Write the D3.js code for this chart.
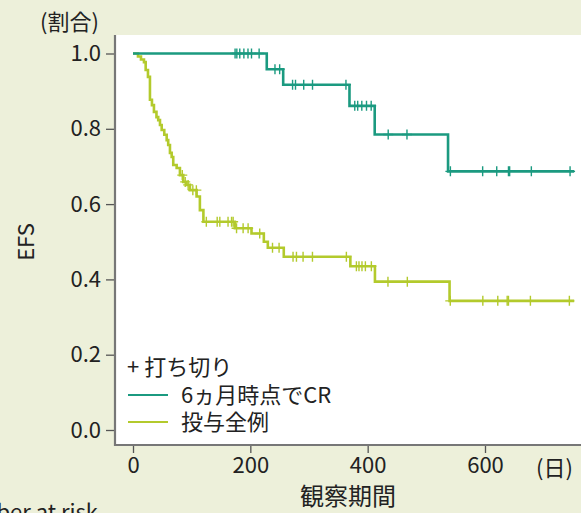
<!DOCTYPE html>
<html lang="ja">
<head>
<meta charset="utf-8">
<title>EFS</title>
<script src="https://cdn.jsdelivr.net/npm/d3@7"></script>
<style>
  body { margin: 0; background: #edf0da; overflow: hidden; }
  text { font-family: "Noto Sans CJK JP", "Noto Sans", sans-serif; fill: #222; }
</style>
</head>
<body>
<script>

// chart size
var w = 581, h = 513;

// 6ヵ月時点でCR: step days and survival after each step
var crDays   = [0, 228, 256, 369, 412, 537];
var crValues = [1.0, 0.958, 0.917, 0.861, 0.785, 0.687];
var crEnd = 752;
var crCensor = [174, 177, 182, 189, 196, 202, 215, 242, 250, 272, 277, 291, 306, 363,
                378, 383, 390, 398, 406, 435, 467, 541, 596, 620, 640, 642, 679, 745];

// 投与全例
var allDays   = [0, 8.5, 13.6, 18.7, 21.6, 25.5, 28.9, 32.3, 35.7, 40, 43, 46, 48.9, 53.3,
                 57.4, 60, 63, 65.9, 68.6, 74.4, 80, 85.6, 91, 97, 108.4, 114, 120,
                 173.6, 202, 223, 229.8, 257, 370.5, 412.4, 539.6];
var allValues = [1.0, 0.992, 0.984, 0.977, 0.956, 0.938, 0.877, 0.863, 0.845, 0.831, 0.823,
                 0.810, 0.797, 0.784, 0.770, 0.757, 0.736, 0.725, 0.704, 0.696, 0.677,
                 0.659, 0.651, 0.637, 0.620, 0.584, 0.553,
                 0.536, 0.522, 0.500, 0.484, 0.460, 0.435, 0.394, 0.343];
var allEnd = 752;
var allCensor = [84, 89, 94, 102, 108, 125, 143.5, 148, 162, 168, 170.7, 176.5, 187.7, 196.2,
                 216, 237.8, 249, 272.8, 278.6, 289.9, 305.9, 363.7, 380.8, 385.2, 390.3,
                 396.1, 406.3, 434.6, 467.6, 540.8, 596.3, 621.8, 637.8, 640, 677.4, 743.8];

// ticks and labels
var xTicks = [0, 200, 400, 600];
var yTicks = [0, 0.2, 0.4, 0.6, 0.8, 1.0];
var legendNames = ["6ヵ月時点でCR", "投与全例"];
var colors = ["#1b9a80", "#b3ca2c"];

var xScale = d3.scaleLinear().domain([0, 600]).range([133, 485]);
var yScale = d3.scaleLinear().domain([0, 1]).range([430, 53.5]);

var svg = d3.select("body").append("svg")
    .attr("width", w)
    .attr("height", h);

// plot panel
var panelLeft = 115, panelTop = 35, panelBottom = 445;
svg.append("rect")
    .attr("x", panelLeft).attr("y", panelTop)
    .attr("width", w - panelLeft).attr("height", panelBottom - panelTop)
    .attr("fill", "#fff");

// axes
var xAxis = d3.axisBottom(xScale).tickValues(xTicks).tickSize(8).tickPadding(4).tickFormat(d3.format("d"));
var yAxis = d3.axisLeft(yScale).tickValues(yTicks).tickSize(9).tickPadding(5).tickFormat(d3.format(".1f"));

var gx = svg.append("g").attr("transform", "translate(0," + panelBottom + ")").call(xAxis);
var gy = svg.append("g").attr("transform", "translate(" + panelLeft + ",0)").call(yAxis);
gx.select(".domain").remove();
gy.select(".domain").remove();
[gx, gy].forEach(function(g) {
    g.selectAll(".tick line").attr("stroke", "#555").attr("stroke-width", 1.3);
    g.selectAll(".tick text").style("font-size", "22px").attr("fill", "#222");
});

svg.append("line").attr("x1", panelLeft).attr("x2", panelLeft).attr("y1", panelTop).attr("y2", panelBottom + 1)
    .attr("stroke", "#777").attr("stroke-width", 2.2);
svg.append("line").attr("x1", panelLeft).attr("x2", w).attr("y1", panelBottom).attr("y2", panelBottom)
    .attr("stroke", "#777").attr("stroke-width", 2.2);

// curves
var line = d3.line()
    .x(function(d) { return xScale(d[0]); })
    .y(function(d) { return yScale(d[1]); })
    .curve(d3.curveStepAfter);

function survAt(days, values, t) {
    var v = values[0];
    for (var i = 0; i < days.length; i++) {
        if (days[i] <= t) v = values[i];
    }
    return v;
}

function drawCurve(days, values, end, censor, color) {
    var pts = days.map(function(d, i) { return [d, values[i]]; });
    pts.push([end, values[values.length - 1]]);
    svg.append("path")
        .datum(pts)
        .attr("d", line)
        .attr("fill", "none")
        .attr("stroke", color)
        .attr("stroke-width", 2.6);

    var g = svg.append("g");
    censor.forEach(function(t) {
        var cx = xScale(t), cy = yScale(survAt(days, values, t));
        g.append("path")
            .attr("d", "M" + (cx - 5) + "," + cy + "H" + (cx + 5) + "M" + cx + "," + (cy - 5) + "V" + (cy + 5))
            .attr("stroke", color)
            .attr("stroke-width", 1.4)
            .attr("fill", "none");
    });
}

drawCurve(allDays, allValues, allEnd, allCensor, colors[1]);
drawCurve(crDays, crValues, crEnd, crCensor, colors[0]);

// legend
svg.append("text").attr("x", 127).attr("y", 375).style("font-size", "22px").text("+ 打ち切り");
legendNames.forEach(function(name, i) {
    var y = 395 + i * 27;
    svg.append("line").attr("x1", 128).attr("x2", 168).attr("y1", y).attr("y2", y)
        .attr("stroke", colors[i]).attr("stroke-width", 2);
    svg.append("text").attr("x", 181).attr("y", y + 8).style("font-size", "22px").text(name);
});

// titles
svg.append("text").attr("x", 40).attr("y", 30).style("font-size", "22px").text("(割合)");
svg.append("text").attr("transform", "translate(34,242) rotate(-90)")
    .attr("text-anchor", "middle").style("font-size", "22px").text("EFS");
svg.append("text").attr("x", 348).attr("y", 505).attr("text-anchor", "middle")
    .style("font-size", "24px").text("観察期間");
svg.append("text").attr("x", 536).attr("y", 476).style("font-size", "22px").text("(日)");
svg.append("text").attr("x", 98).attr("y", 520).attr("text-anchor", "end")
    .style("font-size", "22px").text("Number at risk");

</script>
</body>
</html>
